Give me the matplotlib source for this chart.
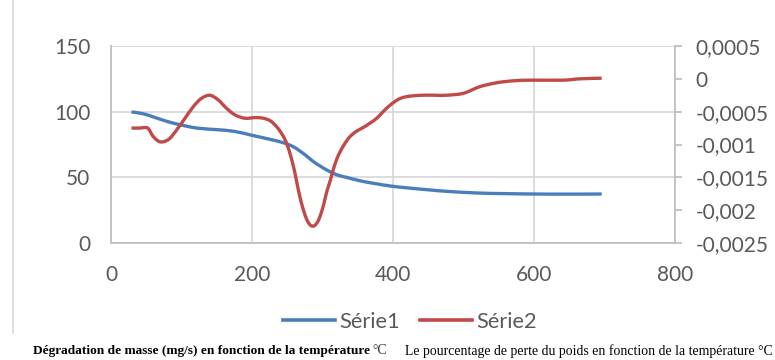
import matplotlib
matplotlib.use("Agg")
import matplotlib.pyplot as plt
from matplotlib.lines import Line2D
from matplotlib.path import Path
from matplotlib.patches import PathPatch
from matplotlib.ticker import FuncFormatter

# Série1: mass (mg) vs temperature (°C)
temp1 = [29, 45, 60, 80, 100, 122, 150, 175, 200, 225, 244, 258, 268, 278, 287,
         297, 306, 320, 334, 352, 372, 396, 420, 450, 480, 523, 560, 598, 650, 696]
mass1 = [99.8, 98.5, 96, 92.5, 89.8, 87.5, 86.3, 85, 82, 79, 76.4, 73.5, 70, 66, 62,
         58.5, 55.6, 52, 50, 47.5, 45.5, 43.4, 42, 40.5, 39.2, 38, 37.6, 37.3, 37.2, 37.3]

# Série2: mass loss rate (mg/s) vs temperature (°C)
temp2 = [29, 40, 52, 60, 70, 82, 93, 105, 117, 128, 140, 152, 164, 176, 190, 205,
         216, 226, 235, 243, 249, 255, 260, 264, 268, 273, 278, 283, 288, 293, 297,
         302, 306, 311, 315, 320, 325, 332, 339, 348, 358, 368, 377, 386, 396, 408,
         420, 440, 460, 476, 500, 523, 547, 571, 598, 642, 665, 696]
rate2 = [-0.00075, -0.00075, -0.00075, -0.00088, -0.00096, -0.00092, -0.00078,
         -0.00060, -0.00042, -0.00030, -0.00025, -0.00032, -0.00045, -0.00055,
         -0.00060, -0.00059, -0.00060, -0.00064, -0.00073, -0.00085, -0.00098,
         -0.00118, -0.00139, -0.00160, -0.00180, -0.00200, -0.00215, -0.00223,
         -0.00224, -0.00218, -0.00208, -0.00190, -0.00172, -0.00155, -0.00139,
         -0.00123, -0.00111, -0.00098, -0.00088, -0.00080, -0.00074, -0.00067,
         -0.00060, -0.00050, -0.00040, -0.00031, -0.00027, -0.00025, -0.00025,
         -0.00025, -0.00022, -0.00012, -0.00006, -0.00003, -0.00002, -0.00002,
         0.0, 0.00001]

x_ticks = [0, 200, 400, 600, 800]
left_ticks = [0, 50, 100, 150]
right_ticks = [-0.0025, -0.002, -0.0015, -0.001, -0.0005, 0, 0.0005]

series_names = ["Série1", "Série2"]
caption_bold = "Dégradation de masse (mg/s) en fonction de la température"
caption_unit = "°C"
caption_right = "Le pourcentage de perte du poids en fonction de la température °C"

BLUE = "#4A7EBB"
RED = "#BE4B48"
GRID = "#D9D9D9"
AXIS = "#BFBFBF"
TEXT = "#595959"

plt.rcParams["font.family"] = ["Lato", "DejaVu Sans"]


def smooth_path(xs, ys, tension=1 / 6):
    """Cubic Bezier path through the points (Catmull-Rom style smoothed line)."""
    pts = list(zip(xs, ys))
    verts = [pts[0]]
    codes = [Path.MOVETO]
    n = len(pts)
    for i in range(n - 1):
        p0 = pts[i - 1] if i > 0 else pts[i]
        p1 = pts[i]
        p2 = pts[i + 1]
        p3 = pts[i + 2] if i + 2 < n else pts[i + 1]
        c1 = (p1[0] + (p2[0] - p0[0]) * tension, p1[1] + (p2[1] - p0[1]) * tension)
        c2 = (p2[0] - (p3[0] - p1[0]) * tension, p2[1] - (p3[1] - p1[1]) * tension)
        verts += [c1, c2, p2]
        codes += [Path.CURVE4] * 3
    return Path(verts, codes)


fig = plt.figure(figsize=(7.75, 3.6), dpi=100)
ax = fig.add_axes([111 / 775, 1 - 243 / 360, (675 - 111) / 775, (243 - 46) / 360])
ax2 = ax.twinx()

ax.set_xlim(0, 800)
ax.set_ylim(0, 150)
ax2.set_ylim(-0.0025, 0.0005)

ax.set_xticks(x_ticks)
ax.set_yticks(left_ticks)
ax2.set_yticks(right_ticks)


def comma_fmt(v, pos):
    if abs(v) < 1e-12:
        return "0"
    s = ("%.4f" % v).rstrip("0").rstrip(".")
    return s.replace(".", ",")


ax2.yaxis.set_major_formatter(FuncFormatter(comma_fmt))

ax.grid(True, color=GRID, linewidth=1.3)
ax.set_axisbelow(True)

for a in (ax, ax2):
    a.spines["top"].set_visible(False)
ax.spines["left"].set_color(AXIS)
ax.spines["bottom"].set_color(AXIS)
ax.spines["left"].set_linewidth(1.3)
ax.spines["bottom"].set_linewidth(1.3)
ax.spines["right"].set_visible(False)
ax2.spines["left"].set_visible(False)
ax2.spines["bottom"].set_visible(False)
ax2.spines["right"].set_color(AXIS)
ax2.spines["right"].set_linewidth(1.3)

ax.tick_params(axis="x", length=0, pad=16, labelsize=15, labelcolor=TEXT)
ax.tick_params(axis="y", length=0, pad=15, labelsize=15, labelcolor=TEXT)
ax2.tick_params(axis="y", length=5, width=1.3, color=AXIS, pad=10,
                labelsize=15, labelcolor=TEXT)

ax.add_patch(PathPatch(smooth_path(temp1, mass1), fill=False, edgecolor=BLUE,
                       linewidth=2.4, capstyle="butt", joinstyle="round", zorder=3))
ax2.add_patch(PathPatch(smooth_path(temp2, rate2), fill=False, edgecolor=RED,
                        linewidth=2.4, capstyle="butt", joinstyle="round", zorder=3))

handles = [Line2D([], [], color=BLUE, linewidth=2.6),
           Line2D([], [], color=RED, linewidth=2.6)]
leg = fig.legend(handles, series_names, loc="center", bbox_to_anchor=(0.529, 1 - 322 / 360),
                 ncol=2, frameon=False, fontsize=15.7, handlelength=2.4,
                 handletextpad=0.2, columnspacing=0.9)
for t in leg.get_texts():
    t.set_color(TEXT)

# chart frame edge
fig.add_artist(Line2D([13 / 775, 13 / 775], [1.0, 1 - 333 / 360],
                      transform=fig.transFigure, color="#D9D9D9", linewidth=1.2))

serif = ["Liberation Serif", "DejaVu Serif"]
cap_y = 1 - 351 / 360
fig.text(33 / 775, cap_y, caption_bold, fontsize=9.6, fontweight="bold",
         family=serif, va="center", ha="left", color="black")
fig.text(372 / 775, cap_y, caption_unit, fontsize=9.9, family=serif,
         va="center", ha="left", color="#333333")
fig.text(405 / 775, cap_y, caption_right, fontsize=9.9, family=serif,
         va="center", ha="left", color="black")

fig.savefig("out.png", dpi=100)
